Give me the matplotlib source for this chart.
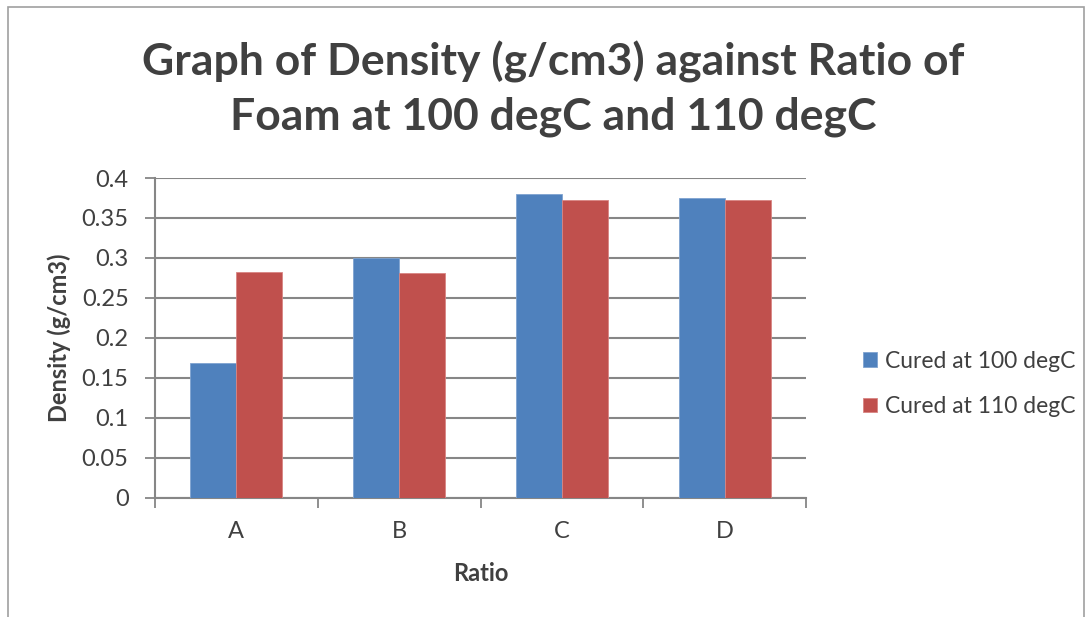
import matplotlib.pyplot as plt
import numpy as np
from matplotlib.patches import Rectangle

plt.rcParams["font.family"] = ["Lato", "DejaVu Sans"]

ratios = ["A", "B", "C", "D"]
cured_100 = [0.169, 0.300, 0.380, 0.375]
cured_110 = [0.283, 0.281, 0.373, 0.373]
y_ticks = [0, 0.05, 0.1, 0.15, 0.2, 0.25, 0.3, 0.35, 0.4]
y_tick_labels = ["0", "0.05", "0.1", "0.15", "0.2", "0.25", "0.3", "0.35", "0.4"]

BLUE = "#4F81BD"
RED = "#C0504D"
GRID = "#868686"
TEXT = "#404040"


def main() -> None:
    fig = plt.figure(figsize=(10.89, 6.17), dpi=100)
    fig.patches.append(Rectangle((8 / 1089, -0.1), 1076 / 1089, 1.1 - 7 / 617,
                                 transform=fig.transFigure, fill=False,
                                 edgecolor="#A0A0A0", linewidth=1.2))

    ax = fig.add_axes([155 / 1089, 1 - 497.7 / 617, 651 / 1089, 319.7 / 617])
    x = np.arange(len(ratios))
    width = 0.282
    ax.bar(x - width / 2, cured_100, width, color=BLUE, edgecolor="#7FA3D0",
           linewidth=0.6, label="Cured at 100 degC", zorder=3)
    ax.bar(x + width / 2, cured_110, width, color=RED, edgecolor="#D88583",
           linewidth=0.6, label="Cured at 110 degC", zorder=3)

    ax.set_xlim(-0.5, len(ratios) - 0.5)
    ax.set_ylim(0, 0.4)
    ax.set_yticks(y_ticks)
    ax.set_yticklabels(y_tick_labels)
    ax.set_xticks(x)
    ax.set_xticklabels(ratios)
    ax.set_xticks(np.arange(len(ratios) + 1) - 0.5, minor=True)
    ax.tick_params(axis="x", which="major", length=0, pad=17, labelsize=17, labelcolor=TEXT)
    ax.tick_params(axis="x", which="minor", length=7, width=1.3, color=GRID, direction="out")
    ax.tick_params(axis="y", length=7, width=1.3, color=GRID, pad=12, labelsize=17, labelcolor=TEXT)

    ax.yaxis.grid(True, color=GRID, linewidth=1.5, zorder=0)
    ax.set_axisbelow(True)
    for side in ("top", "right"):
        ax.spines[side].set_visible(False)
    for side in ("left", "bottom"):
        ax.spines[side].set_color(GRID)
        ax.spines[side].set_linewidth(1.5)

    ax.set_xlabel("Ratio", fontsize=17, fontweight="bold", color=TEXT, labelpad=14)
    ax.set_ylabel("Density (g/cm3)", fontsize=17, fontweight="bold", color=TEXT, labelpad=8)

    fig.text(553 / 1089, 1 - 89 / 617,
             "Graph of Density (g/cm3) against Ratio of\nFoam at 100 degC and 110 degC",
             ha="center", va="center", fontsize=32, fontweight="bold", color=TEXT,
             linespacing=1.42)

    fig.legend(loc="center left", bbox_to_anchor=(842 / 1089, 1 - 384 / 617),
               frameon=False, fontsize=16.5, labelcolor=TEXT, handlelength=0.62,
               handleheight=0.62, handletextpad=0.35, labelspacing=1.05)

    fig.savefig("out.png", dpi=100)


if __name__ == "__main__":
    main()
